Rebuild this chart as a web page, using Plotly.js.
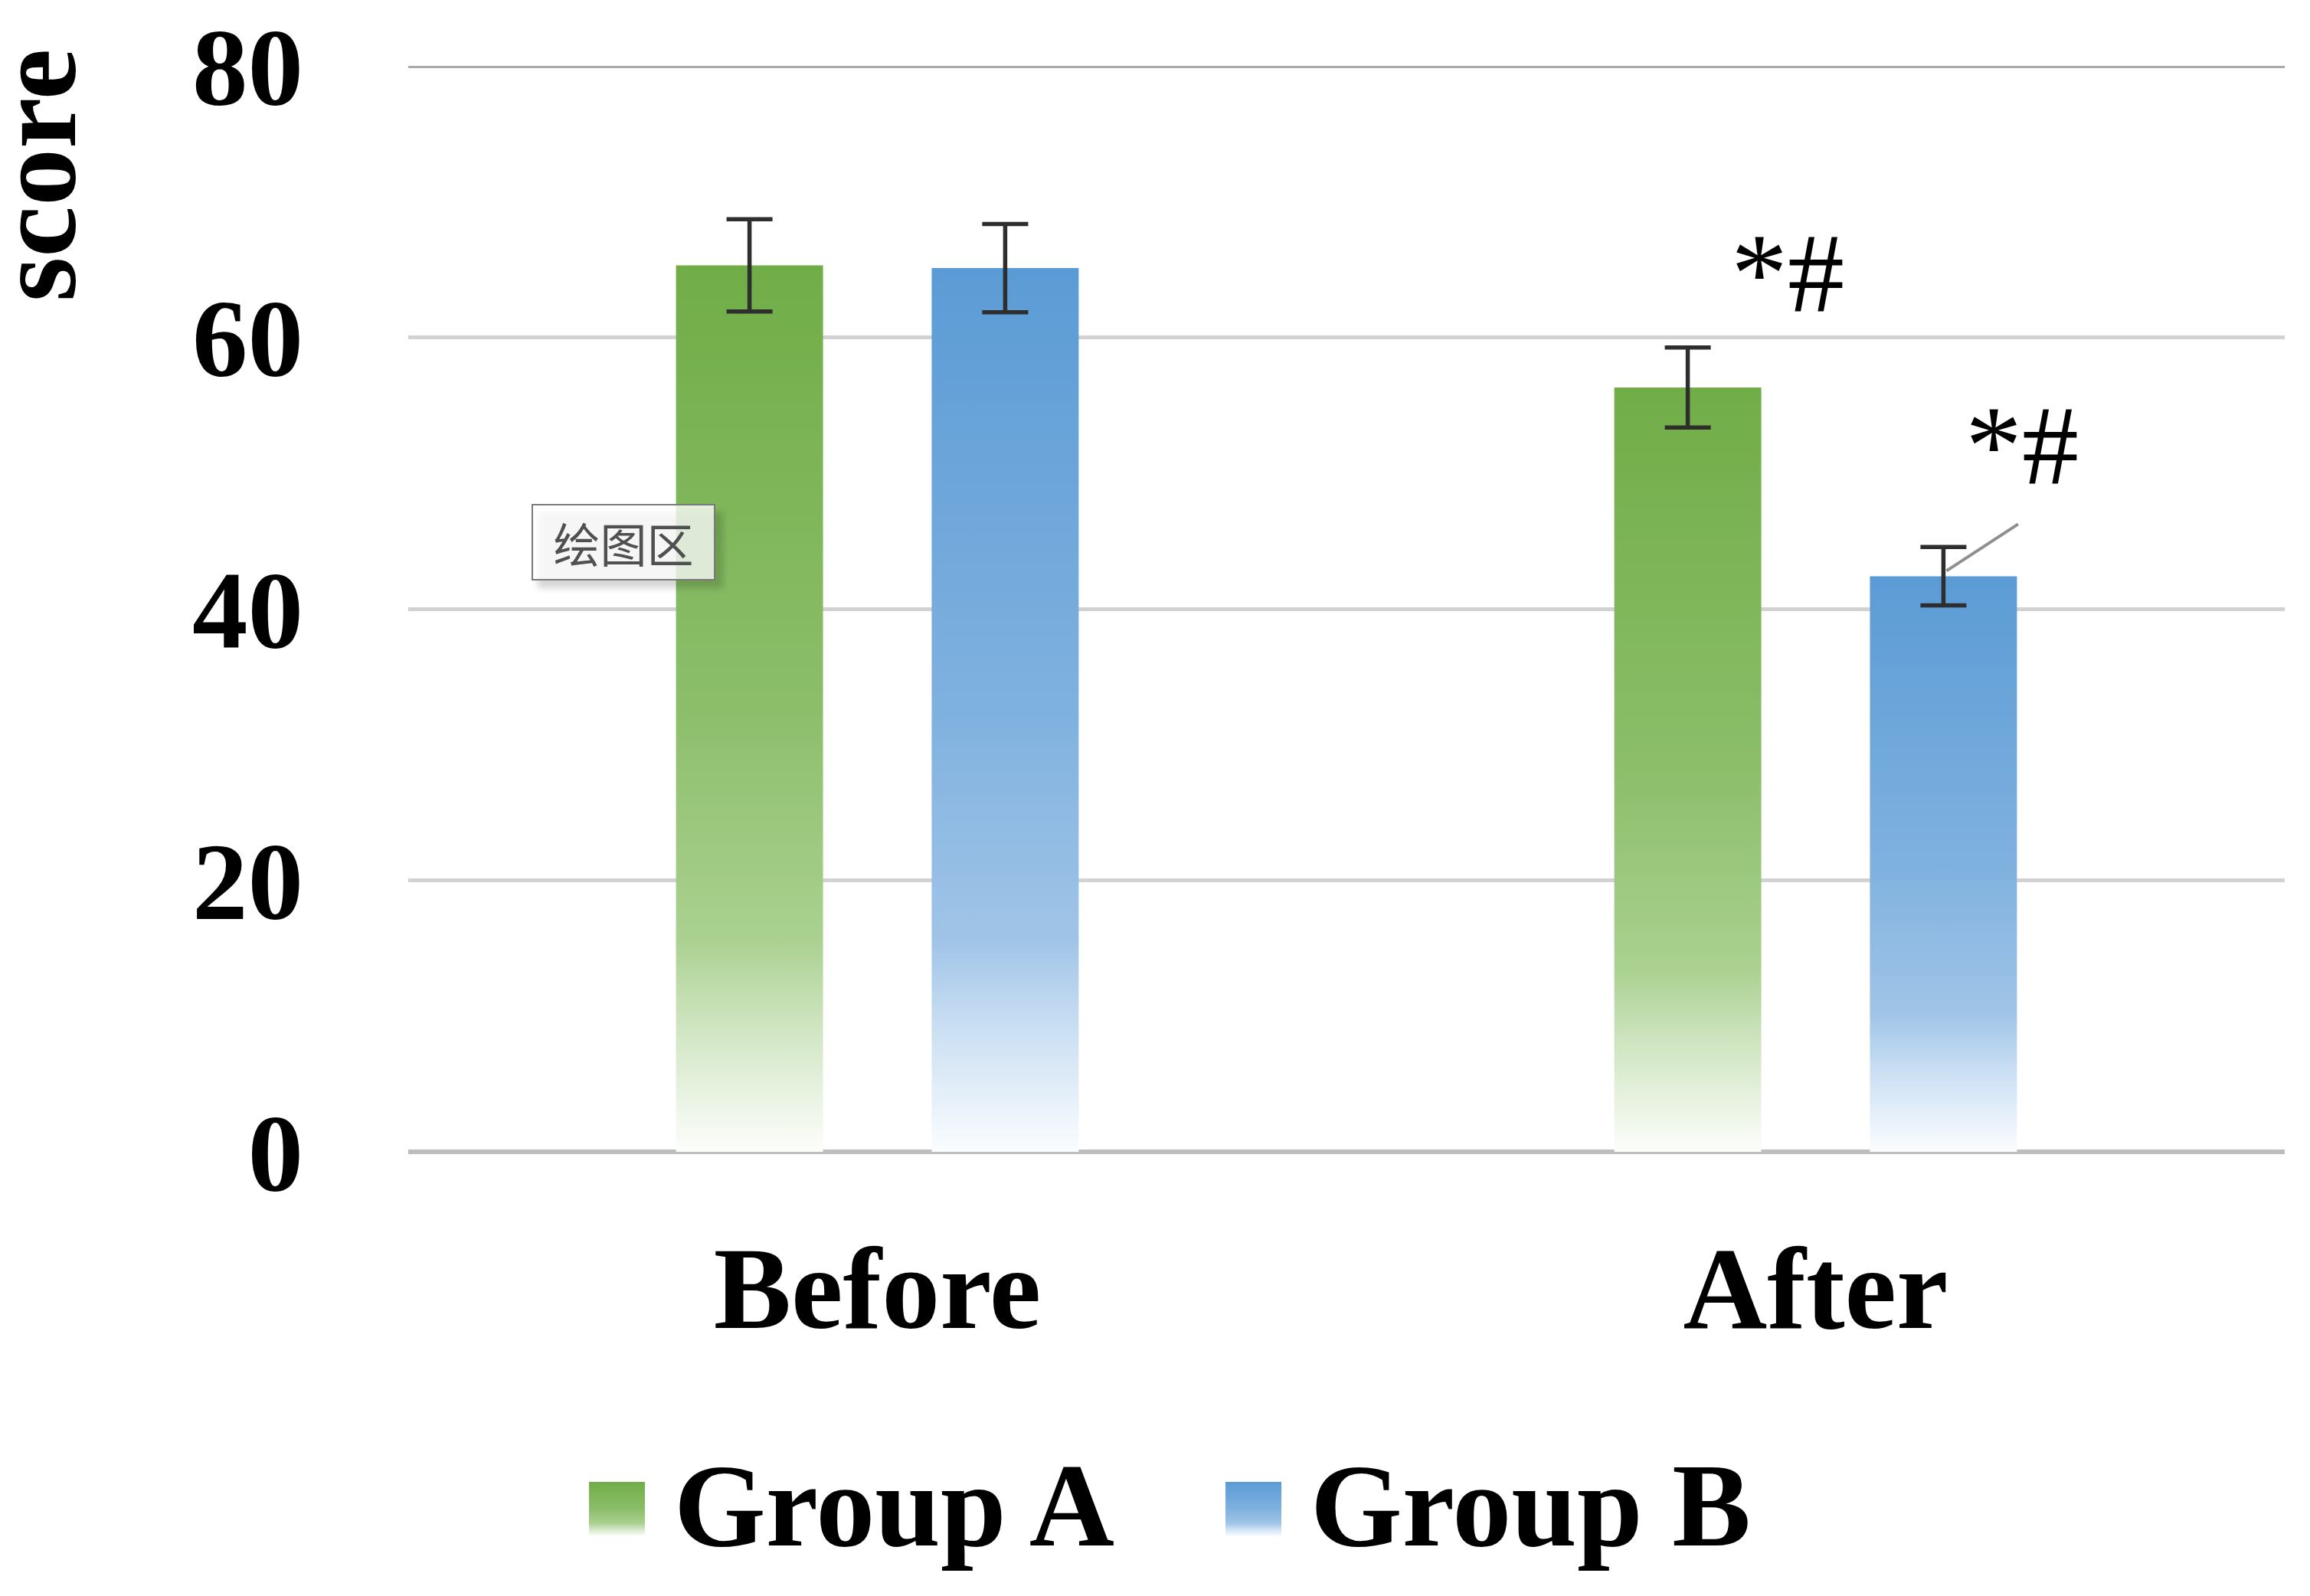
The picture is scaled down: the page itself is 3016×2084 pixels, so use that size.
<!DOCTYPE html>
<html>
<head>
<meta charset="utf-8">
<script src="https://cdn.plot.ly/plotly-3.0.1.min.js"></script>
<style>
  html, body { margin: 0; padding: 0; background: #ffffff; }
  #chart { width: 3016px; height: 2084px; }
</style>
</head>
<body>
<div id="chart"></div>
<script>
// ---------------- data ----------------
const categories = ['Before', 'After'];
const seriesNames = ['Group A', 'Group B'];
const groupA = [65.3, 56.3];
const groupB = [65.1, 42.4];
const errA = [3.4, 2.95];
const errB = [3.25, 2.15];
const yTicks = [0, 20, 40, 60, 80];
const sigLabel = '*#';
const tooltipText = '绘图区';
const yTitle = 'score';

// ---------------- style ----------------
const W = 3016, H = 2084;
const M = { l: 533, r: 33, t: 86, b: 580 };
const PW = W - M.l - M.r, PH = H - M.t - M.b;
const BARGAP = 0.455, GROUPGAP = 0.425;
const serif = 'Liberation Serif, Times New Roman, serif';
const greenTop = '#70AD47', blueTop = '#5B9BD5';

const px = x => (x - M.l) / PW;          // pixel -> paper x
const py = y => (H - M.b - y) / PH;       // pixel -> paper y
const catPx = PW / categories.length;
const barOffset = catPx * (1 - BARGAP) / 4; // px from category centre to bar centre

const errStyle = { type: 'data', color: '#2e2e2e', thickness: 5.5, width: 30, visible: true };

const data = [
  { type: 'bar', name: seriesNames[0], x: categories, y: groupA,
    marker: { color: greenTop, line: { width: 0 } },
    error_y: Object.assign({ array: errA }, errStyle), showlegend: false },
  { type: 'bar', name: seriesNames[1], x: categories, y: groupB,
    marker: { color: blueTop, line: { width: 0 } },
    error_y: Object.assign({ array: errB }, errStyle), showlegend: false }
];

const annotations = [
  // y-axis title
  { xref: 'paper', yref: 'paper', x: px(47), y: py(229), text: yTitle, showarrow: false,
    textangle: -90, xanchor: 'center', yanchor: 'middle',
    font: { family: serif, size: 150, color: '#000', weight: 700 } },
  // significance marks
  { xref: 'x', yref: 'y', x: categories[1], y: 64.7, xshift: -barOffset + 130,
    text: sigLabel, showarrow: false, xanchor: 'center', yanchor: 'middle',
    font: { family: serif, size: 148, color: '#000' } },
  { xref: 'x', yref: 'y', x: categories[1], y: 52.0, xshift: barOffset + 103,
    text: sigLabel, showarrow: false, xanchor: 'center', yanchor: 'middle',
    font: { family: serif, size: 148, color: '#000' } },
  // leader line to Group B "After" bar
  { xref: 'x', yref: 'y', x: categories[1], y: groupB[1] + 0.4, xshift: barOffset + 4,
    text: ' ', showarrow: true, arrowhead: 0, arrowwidth: 4, arrowcolor: '#8f8f8f',
    ax: 95, ay: -62, font: { size: 1 } },
  // tooltip box
  { xref: 'paper', yref: 'paper', x: px(814), y: py(708), text: tooltipText, showarrow: false,
    xanchor: 'center', yanchor: 'middle', width: 236, height: 96, borderpad: 0,
    bgcolor: 'rgba(255,255,255,0.78)', bordercolor: '#7a7a7a', borderwidth: 2,
    font: { family: 'Noto Sans CJK SC', size: 61, color: '#505050' } },
  // legend texts
  { xref: 'paper', yref: 'paper', x: px(878), y: py(1966), text: seriesNames[0], showarrow: false,
    xanchor: 'left', yanchor: 'middle', font: { family: serif, size: 154, color: '#000', weight: 700 } },
  { xref: 'paper', yref: 'paper', x: px(1709), y: py(1966), text: seriesNames[1], showarrow: false,
    xanchor: 'left', yanchor: 'middle', font: { family: serif, size: 154, color: '#000', weight: 700 } }
];

const shapes = [
  // tooltip shadow
  { type: 'rect', xref: 'paper', yref: 'paper', x0: px(702), x1: px(944), y0: py(668), y1: py(768),
    fillcolor: 'rgba(0,0,0,0.16)', line: { width: 0 }, layer: 'above' },
  // legend squares
  { type: 'rect', xref: 'paper', yref: 'paper', x0: px(769), x1: px(842), y0: py(1935), y1: py(2006),
    fillcolor: greenTop, line: { width: 0 }, layer: 'above' },
  { type: 'rect', xref: 'paper', yref: 'paper', x0: px(1600), x1: px(1673), y0: py(1935), y1: py(2006),
    fillcolor: blueTop, line: { width: 0 }, layer: 'above' },
  // darker top gridline
  { type: 'line', xref: 'paper', yref: 'y', x0: 0, x1: 1, y0: yTicks[yTicks.length - 1], y1: yTicks[yTicks.length - 1],
    line: { color: '#aaaaaa', width: 6 }, layer: 'below' }
];

const layout = {
  width: W, height: H, margin: M,
  paper_bgcolor: '#ffffff', plot_bgcolor: '#ffffff',
  barmode: 'group', bargap: BARGAP, bargroupgap: GROUPGAP,
  showlegend: false,
  xaxis: {
    type: 'category', showgrid: false, zeroline: false, showline: false,
    ticks: '', ticklabelstandoff: 77,
    tickfont: { family: serif, size: 152, color: '#000', weight: 700 }
  },
  yaxis: {
    range: [0, 80], tickvals: yTicks, ticktext: yTicks.map(String),
    showgrid: true, gridcolor: '#d2d2d2', gridwidth: 5,
    zeroline: true, zerolinecolor: '#bdbdbd', zerolinewidth: 6,
    showline: false, ticks: '', ticklabelstandoff: 136,
    tickfont: { family: serif, size: 145, color: '#000', weight: 700 }
  },
  annotations: annotations,
  shapes: shapes
};

const gradStops = {
  gA: [[0, 'rgb(112,173,71)'], [0.5, 'rgb(140,190,106)'], [0.76, 'rgb(170,209,144)'],
       [0.86, 'rgb(208,229,194)'], [1, 'rgb(253,254,252)']],
  gB: [[0, 'rgb(91,155,213)'], [0.5, 'rgb(127,177,223)'], [0.76, 'rgb(160,196,231)'],
       [0.86, 'rgb(202,223,243)'], [1, 'rgb(251,253,255)']]
};

function applyGradients(gd) {
  const NS = 'http://www.w3.org/2000/svg';
  const svg = gd.querySelector('svg.main-svg');
  let defs = svg.querySelector('defs');
  if (!defs) { defs = document.createElementNS(NS, 'defs'); svg.insertBefore(defs, svg.firstChild); }
  Object.keys(gradStops).forEach(id => {
    const lg = document.createElementNS(NS, 'linearGradient');
    lg.setAttribute('id', id);
    lg.setAttribute('x1', '0'); lg.setAttribute('y1', '0');
    lg.setAttribute('x2', '0'); lg.setAttribute('y2', '1');
    gradStops[id].forEach(([o, c]) => {
      const s = document.createElementNS(NS, 'stop');
      s.setAttribute('offset', o); s.setAttribute('stop-color', c);
      lg.appendChild(s);
    });
    defs.appendChild(lg);
  });
  const ids = ['gA', 'gB'];
  gd.querySelectorAll('.barlayer .trace').forEach((t, i) => {
    t.querySelectorAll('.point path').forEach(p => { p.style.fill = 'url(#' + ids[i] + ')'; });
  });
  const shapePaths = gd.querySelectorAll('.layer-above .shapelayer path');
  if (shapePaths[1]) shapePaths[1].style.fill = 'url(#gA)';
  if (shapePaths[2]) shapePaths[2].style.fill = 'url(#gB)';
  if (shapePaths[0]) shapePaths[0].style.filter = 'blur(4px)';
}

const gd = document.getElementById('chart');
Plotly.newPlot(gd, data, layout, { staticPlot: true, displayModeBar: false })
  .then(() => applyGradients(gd));
</script>
</body>
</html>
